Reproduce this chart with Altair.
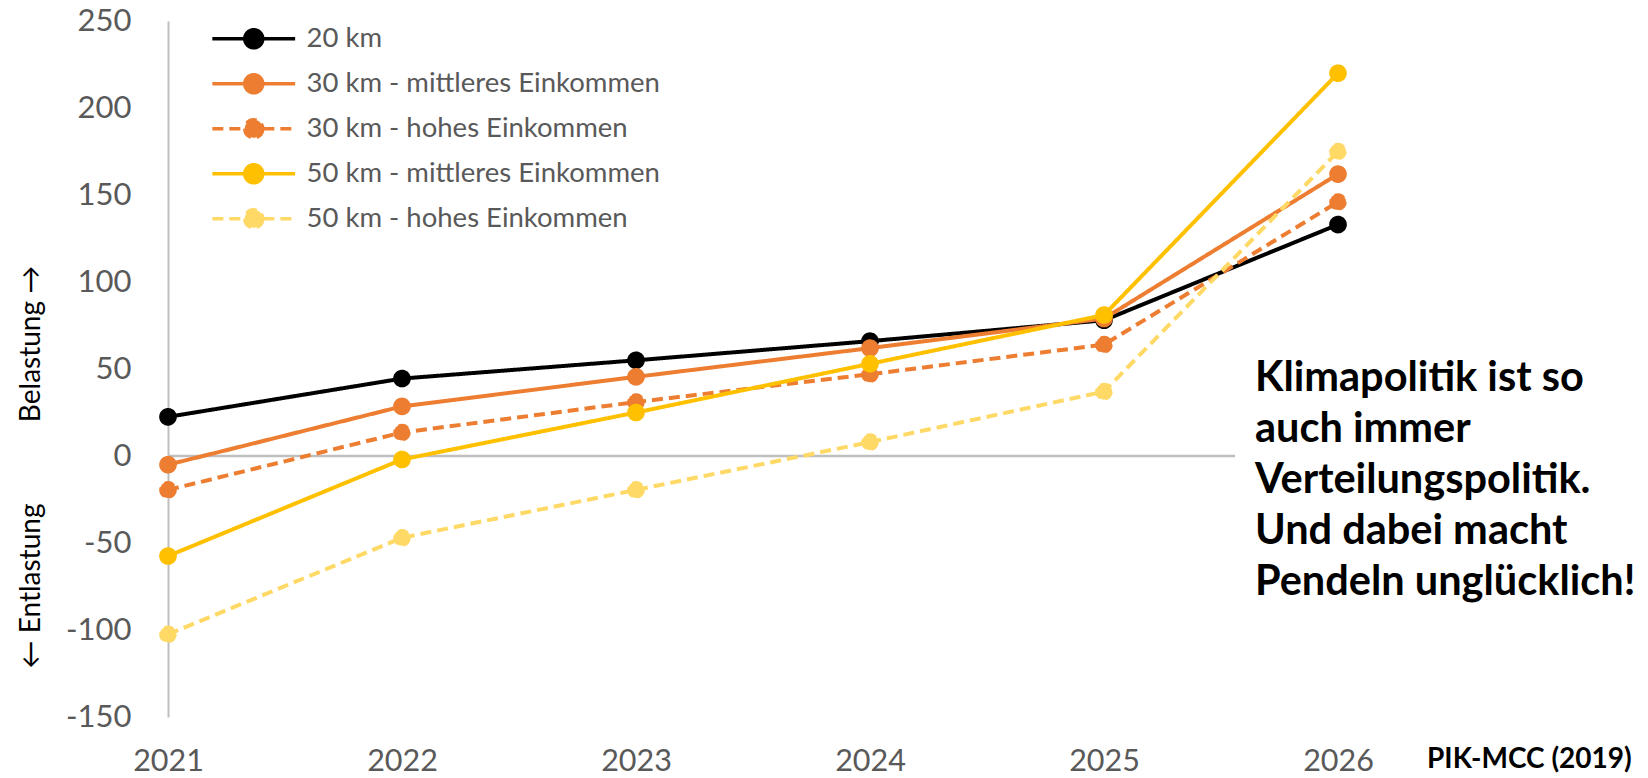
import altair as alt
import pandas as pd

# ---------------- data ----------------
years = [2021, 2022, 2023, 2024, 2025, 2026]
series_names = [
    "20 km",
    "30 km - mittleres Einkommen",
    "30 km - hohes Einkommen",
    "50 km - mittleres Einkommen",
    "50 km - hohes Einkommen",
]
km20 = [22.5, 44.5, 55, 66, 78, 133]
km30_mid = [-5, 28.5, 45.5, 62, 79, 162]
km30_high = [-19.5, 13.5, 31, 47, 64, 146]
km50_mid = [-57.5, -2, 25, 53, 81, 220]
km50_high = [-102.5, -47, -19.5, 8, 37, 175]
series_values = [km20, km30_mid, km30_high, km50_mid, km50_high]

y_ticks = [-150, -100, -50, 0, 50, 100, 150, 200, 250]
note_lines = ["Klimapolitik ist so", "auch immer", "Verteilungspolitik.",
              "Und dabei macht", "Pendeln unglücklich!"]
source_text = "PIK-MCC (2019)"
title_up = "Belastung →"
title_down = "← Entlastung"

# ---------------- styles ----------------
series_colors = ["#000000", "#ED7D31", "#ED7D31", "#FFC000", "#FFD966"]
series_dashes = [[1, 0], [1, 0], [11, 6], [1, 0], [11, 6]]
FONT = "Lato"
AXIS_GRAY = "#595959"
LINE_GRAY = "#BFBFBF"

rows = []
for name, vals in zip(series_names, series_values):
    for yr, v in zip(years, vals):
        rows.append({"series": name, "year": yr, "value": v})
df = pd.DataFrame(rows)

x_axis = alt.Axis(values=years, format="d", domain=False, ticks=False, grid=False,
                  labelFont=FONT, labelFontSize=30.5, labelColor=AXIS_GRAY,
                  labelPadding=29, labelFlush=False, title=None)
y_axis = alt.Axis(values=y_ticks, grid=False, ticks=False, domainColor=LINE_GRAY,
                  domainWidth=2, labelFont=FONT, labelFontSize=31, labelColor=AXIS_GRAY,
                  labelPadding=37, labelFlush=False, title=None,
                  labelExpr="datum.value < 0 ? '-' + abs(datum.value) : '' + datum.value")
x_scale = alt.Scale(domain=[2021, 2026], nice=False, zero=False)
y_scale = alt.Scale(domain=[-150, 250], nice=False, zero=False)

# legend symbol: line with a marker in the middle (unit = half marker size)
legend_path = ("M-4.6,0L4.6,0M1,0A1,1,0,1,1,-1,0A1,1,0,1,1,1,0Z")
legend = alt.Legend(title=None, orient="none", legendX=72, legendY=4,
                    symbolType=legend_path, symbolSize=18 * 18,
                    symbolStrokeWidth=3.5, symbolOpacity=1,
                    labelFont=FONT, labelFontSize=27.5, labelColor=AXIS_GRAY,
                    labelOffset=39, labelLimit=800, rowPadding=12, padding=0)
color_scale = alt.Scale(domain=series_names, range=series_colors)
dash_scale = alt.Scale(domain=series_names, range=series_dashes)

# zero baseline (Excel horizontal axis, hidden behind the text box on the right)
zero_df = pd.DataFrame({"year": [2021], "x2": [2025.56], "value": [0]})
zero_rule = alt.Chart(zero_df).mark_rule(color=LINE_GRAY, strokeWidth=2.5).encode(
    x=alt.X("year:Q", scale=x_scale, axis=x_axis),
    x2="x2:Q",
    y=alt.Y("value:Q", scale=y_scale, axis=y_axis),
)

layers = [zero_rule]
for name, col, dash in zip(series_names, series_colors, series_dashes):
    sub = df[df["series"] == name]
    line = alt.Chart(sub).mark_line(color=col, strokeDash=dash, strokeWidth=4).encode(
        x=alt.X("year:Q", scale=x_scale, axis=x_axis),
        y=alt.Y("value:Q", scale=y_scale, axis=y_axis),
    )
    pts = alt.Chart(sub).mark_point(filled=True, size=260, opacity=1, strokeWidth=1.5).encode(
        x=alt.X("year:Q", scale=x_scale, axis=x_axis),
        y=alt.Y("value:Q", scale=y_scale, axis=y_axis),
        fill=alt.Fill("series:N", scale=color_scale, legend=legend),
        stroke=alt.Stroke("series:N", scale=color_scale, legend=legend),
        strokeDash=alt.StrokeDash("series:N", scale=dash_scale, legend=legend),
    )
    layers += [line, pts]

one = alt.Data(values=[{}])
t_up = alt.Chart(one).mark_text(text=title_up, angle=270, align="center", baseline="middle",
                                font=FONT, fontSize=28, color="#000000").encode(
    x=alt.value(-136), y=alt.value(323))
t_down = alt.Chart(one).mark_text(text=title_down, angle=270, align="center", baseline="middle",
                                  font=FONT, fontSize=28, color="#000000").encode(
    x=alt.value(-136), y=alt.value(565))
note = alt.Chart(one).mark_text(text=note_lines, align="left", baseline="alphabetic",
                                font=FONT, fontSize=41.5, fontWeight="bold", lineHeight=51,
                                color="#000000").encode(
    x=alt.value(1087), y=alt.value(370))
source = alt.Chart(one).mark_text(text=source_text, align="left", baseline="alphabetic",
                                  font=FONT, fontSize=28, fontWeight="bold",
                                  color="#000000").encode(
    x=alt.value(1259), y=alt.value(747))

chart = alt.layer(*layers, t_up, t_down, note, source).properties(
    width=1170, height=696,
    autosize=alt.AutoSizeParams(type="none"),
    padding={"left": 168, "top": 21, "right": 310, "bottom": 61},
    background="white",
).configure_view(stroke=None)

chart.save("out.html", embed_options={"renderer": "svg", "actions": False})
